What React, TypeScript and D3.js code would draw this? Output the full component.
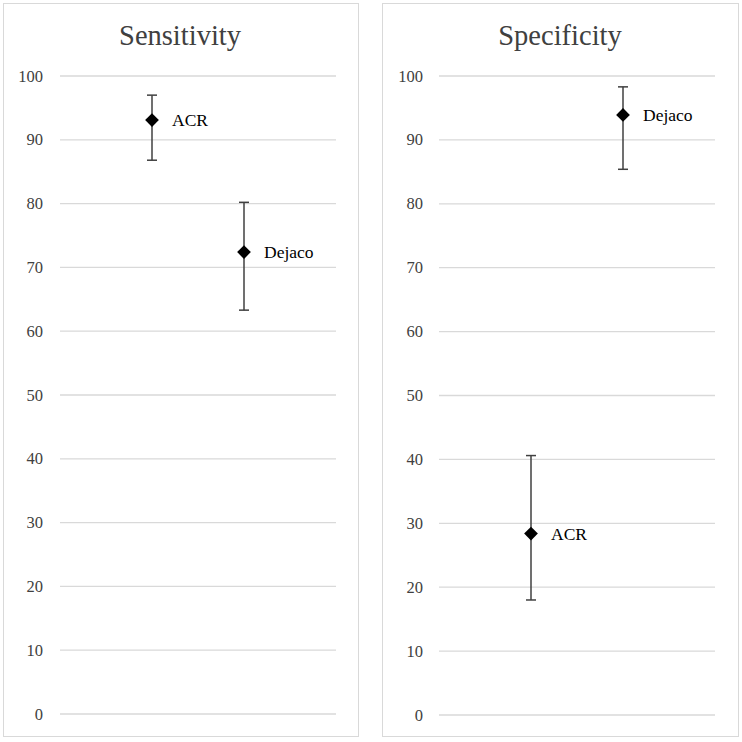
import React, { useEffect, useRef } from "react";
import * as d3 from "d3";

const panels = ["Sensitivity", "Specificity"];
const categories = ["ACR", "Dejaco"];
const sensitivityValues = [93.1, 72.4];
const sensitivityLower = [86.8, 63.3];
const sensitivityUpper = [97.0, 80.2];
const specificityValues = [28.4, 93.9];
const specificityLower = [18.0, 85.4];
const specificityUpper = [40.6, 98.3];
const yTicks = [0, 10, 20, 30, 40, 50, 60, 70, 80, 90, 100];

const panelData = [
  { title: panels[0], values: sensitivityValues, lower: sensitivityLower, upper: sensitivityUpper },
  { title: panels[1], values: specificityValues, lower: specificityLower, upper: specificityUpper },
];

export default function App() {
  const ref = useRef<SVGSVGElement>(null);
  useEffect(() => {
    const svg = d3.select(ref.current);
    svg.selectAll("*").remove();
    const frames = [
      { x0: 3.5, x1: 358.5, gx0: 60, gx1: 336, yTop: 76, yBot: 714, labelRight: 43, titleX: 180 },
      { x0: 382.5, x1: 738.5, gx0: 439, gx1: 715, yTop: 76, yBot: 715, labelRight: 423, titleX: 560 },
    ];
    panelData.forEach((p, i) => {
      const f = frames[i];
      const g = svg.append("g");
      g.append("rect")
        .attr("x", f.x0).attr("y", 3.5)
        .attr("width", f.x1 - f.x0).attr("height", 733)
        .attr("fill", "#fff").attr("stroke", "#d9d9d9").attr("stroke-width", 1);
      const y = d3.scaleLinear().domain([0, 100]).range([f.yBot, f.yTop]);
      const x = d3.scaleLinear().domain([0, categories.length + 1]).range([f.gx0, f.gx1]);
      g.append("text")
        .attr("x", f.titleX).attr("y", 45)
        .attr("text-anchor", "middle")
        .attr("font-family", "'Liberation Serif', 'Times New Roman', serif")
        .attr("font-size", 28.5).attr("fill", "#404040")
        .text(p.title);
      yTicks.forEach((t) => {
        g.append("line")
          .attr("x1", f.gx0).attr("x2", f.gx1)
          .attr("y1", y(t)).attr("y2", y(t))
          .attr("stroke", "#d9d9d9").attr("stroke-width", 1.3);
        g.append("text")
          .attr("x", f.labelRight).attr("y", y(t) + 5.5)
          .attr("text-anchor", "end")
          .attr("font-family", "'Liberation Serif', 'Times New Roman', serif")
          .attr("font-size", 16.5).attr("fill", "#404040")
          .text(String(t));
      });
      categories.forEach((c, j) => {
        const cx = x(j + 1);
        const cy = y(p.values[j]);
        const yl = y(p.lower[j]);
        const yu = y(p.upper[j]);
        g.append("line").attr("x1", cx).attr("x2", cx).attr("y1", yu).attr("y2", yl)
          .attr("stroke", "#404040").attr("stroke-width", 1.5);
        [yu, yl].forEach((yy) => {
          g.append("line").attr("x1", cx - 5).attr("x2", cx + 5).attr("y1", yy).attr("y2", yy)
            .attr("stroke", "#404040").attr("stroke-width", 1.5);
        });
        const sym = d3.symbol().type(d3.symbolDiamond2).size(120);
        g.append("path")
          .attr("d", sym() as string)
          .attr("transform", `translate(${cx},${cy})`)
          .attr("fill", "#000");
        g.append("text")
          .attr("x", cx + 20).attr("y", cy + 6)
          .attr("font-family", "'Liberation Serif', 'Times New Roman', serif")
          .attr("font-size", 17.5).attr("fill", "#000")
          .text(c);
      });
    });
  }, []);
  return (
    <svg ref={ref} width={742} height={742}
      style={{ position: "absolute", left: 0, top: 0, background: "#fff" }} />
  );
}
